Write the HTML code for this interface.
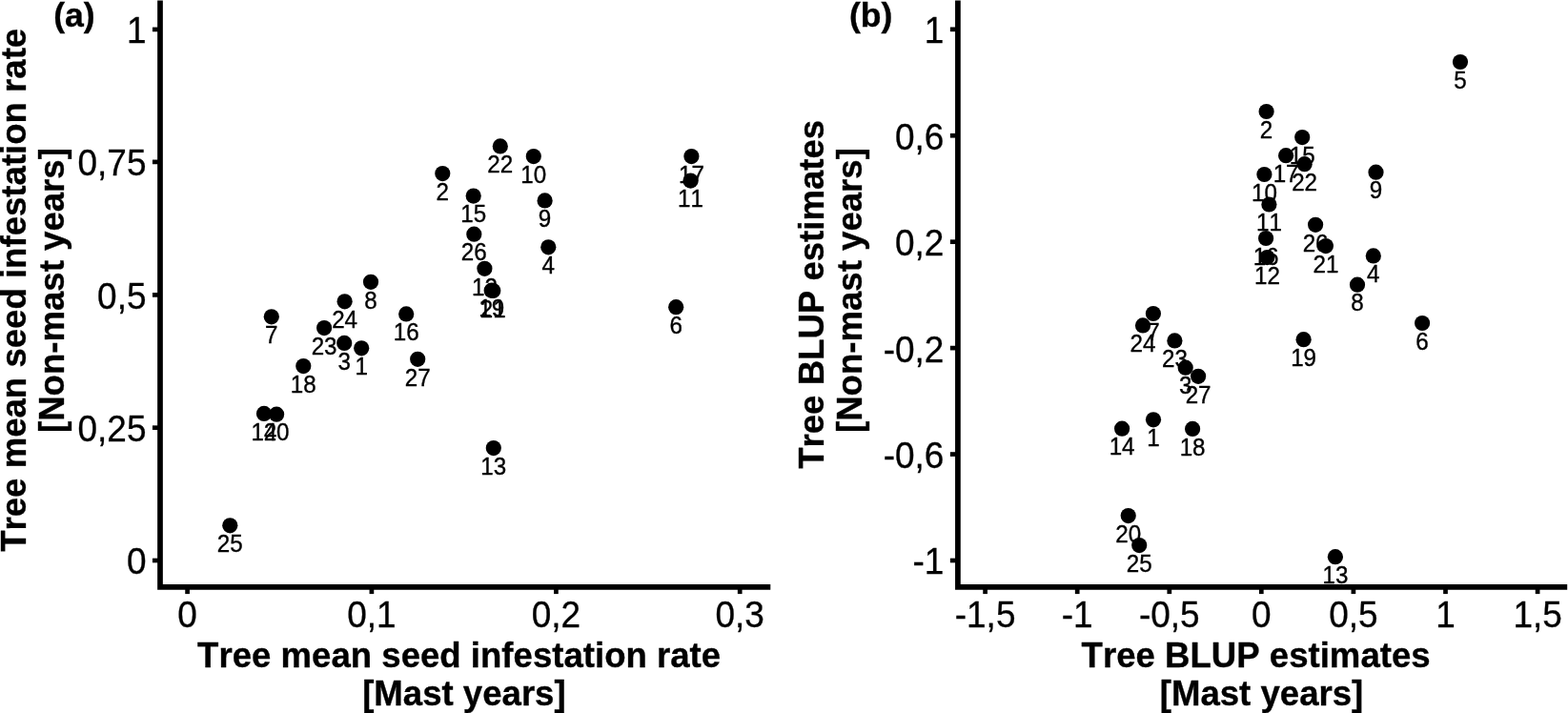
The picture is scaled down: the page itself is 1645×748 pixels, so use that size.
<!DOCTYPE html>
<html lang="en">
<head>
<meta charset="utf-8">
<title>Tree mean seed infestation rate and BLUP estimates</title>
<style>
html,body{margin:0;padding:0;background:#fff;}
body{width:1645px;height:748px;overflow:hidden;}
svg{display:block;font-family:"Liberation Sans",sans-serif;}
text{fill:#000;stroke:#000;font-kerning:none;}
.t{font-weight:bold;font-size:36.6px;stroke-width:0.35px;text-anchor:middle;}
.a{font-size:37.0px;stroke-width:0.3px;}
.l{font-size:24.2px;stroke-width:0.35px;text-anchor:middle;}
.ax{stroke:#000;stroke-width:5.7;fill:none;stroke-linejoin:miter;stroke-linecap:butt;}
.tk{stroke:#000;stroke-width:4.7;fill:none;}
circle{fill:#000;}
</style>
</head>
<body>
<svg width="1645" height="748" viewBox="0 0 1645 748">
<rect x="0" y="0" width="1645" height="748" fill="#fff"/>

<g id="panel-a">
<g class="labels">
<text class="l" transform="translate(241.30 579.00) scale(1 1.030)">25</text>
<text class="l" transform="translate(277.00 461.60) scale(1 1.030)">14</text>
<text class="l" transform="translate(290.10 462.40) scale(1 1.030)">20</text>
<text class="l" transform="translate(318.30 411.80) scale(1 1.030)">18</text>
<text class="l" transform="translate(284.80 360.00) scale(1 1.030)">7</text>
<text class="l" transform="translate(340.10 371.80) scale(1 1.030)">23</text>
<text class="l" transform="translate(361.60 344.00) scale(1 1.030)">24</text>
<text class="l" transform="translate(361.20 387.60) scale(1 1.030)">3</text>
<text class="l" transform="translate(379.20 393.00) scale(1 1.030)">1</text>
<text class="l" transform="translate(389.00 323.50) scale(1 1.030)">8</text>
<text class="l" transform="translate(426.20 357.10) scale(1 1.030)">16</text>
<text class="l" transform="translate(438.20 404.50) scale(1 1.030)">27</text>
<text class="l" transform="translate(464.30 209.80) scale(1 1.030)">2</text>
<text class="l" transform="translate(496.70 233.30) scale(1 1.030)">15</text>
<text class="l" transform="translate(497.30 273.40) scale(1 1.030)">26</text>
<text class="l" transform="translate(508.40 309.50) scale(1 1.030)">12</text>
<text class="l" transform="translate(517.30 332.60) scale(1 1.030)">21</text>
<text class="l" transform="translate(515.70 332.40) scale(1 1.030)">19</text>
<text class="l" transform="translate(517.80 497.80) scale(1 1.030)">13</text>
<text class="l" transform="translate(524.80 181.10) scale(1 1.030)">22</text>
<text class="l" transform="translate(559.80 191.80) scale(1 1.030)">10</text>
<text class="l" transform="translate(571.60 238.10) scale(1 1.030)">9</text>
<text class="l" transform="translate(575.30 287.00) scale(1 1.030)">4</text>
<text class="l" transform="translate(709.20 349.90) scale(1 1.030)">6</text>
<text class="l" transform="translate(725.40 191.80) scale(1 1.030)">17</text>
<text class="l" transform="translate(724.50 217.30) scale(1 1.030)">11</text>
</g>
<g class="points">
<circle cx="241.3" cy="551.3" r="8.10"/>
<circle cx="277.0" cy="433.9" r="8.10"/>
<circle cx="290.1" cy="434.7" r="8.10"/>
<circle cx="318.3" cy="384.1" r="8.10"/>
<circle cx="284.8" cy="332.3" r="8.10"/>
<circle cx="340.1" cy="344.1" r="8.10"/>
<circle cx="361.6" cy="316.3" r="8.10"/>
<circle cx="361.2" cy="359.9" r="8.10"/>
<circle cx="379.2" cy="365.3" r="8.10"/>
<circle cx="389.0" cy="295.8" r="8.10"/>
<circle cx="426.2" cy="329.4" r="8.10"/>
<circle cx="438.2" cy="376.8" r="8.10"/>
<circle cx="464.3" cy="182.1" r="8.10"/>
<circle cx="496.7" cy="205.6" r="8.10"/>
<circle cx="497.3" cy="245.7" r="8.10"/>
<circle cx="508.4" cy="281.8" r="8.10"/>
<circle cx="517.3" cy="304.9" r="8.10"/>
<circle cx="515.7" cy="304.7" r="8.10"/>
<circle cx="517.8" cy="470.1" r="8.10"/>
<circle cx="524.8" cy="153.4" r="8.10"/>
<circle cx="559.8" cy="164.1" r="8.10"/>
<circle cx="571.6" cy="210.4" r="8.10"/>
<circle cx="575.3" cy="259.3" r="8.10"/>
<circle cx="709.2" cy="322.2" r="8.10"/>
<circle cx="725.4" cy="164.1" r="8.10"/>
<circle cx="724.5" cy="189.6" r="8.10"/>
</g>
<path class="ax" d="M168.00 0.5 V615.85 H808.30"/>
<path class="tk" d="M159.95 30.90 H168.00"/>
<text class="a" transform="translate(153.50 45.35) scale(1 1.025)" text-anchor="end">1</text>
<path class="tk" d="M159.95 169.90 H168.00"/>
<text class="a" transform="translate(153.50 184.35) scale(1 1.025)" text-anchor="end">0,75</text>
<path class="tk" d="M159.95 309.40 H168.00"/>
<text class="a" transform="translate(153.50 323.85) scale(1 1.025)" text-anchor="end">0,5</text>
<path class="tk" d="M159.95 448.70 H168.00"/>
<text class="a" transform="translate(153.50 463.15) scale(1 1.025)" text-anchor="end">0,25</text>
<path class="tk" d="M159.95 588.00 H168.00"/>
<text class="a" transform="translate(153.50 602.45) scale(1 1.025)" text-anchor="end">0</text>
<path class="tk" d="M196.60 615.85 V623.10"/>
<text class="a" transform="translate(196.60 657.85) scale(1 1.025)" text-anchor="middle">0</text>
<path class="tk" d="M389.90 615.85 V623.10"/>
<text class="a" transform="translate(389.90 657.85) scale(1 1.025)" text-anchor="middle">0,1</text>
<path class="tk" d="M583.40 615.85 V623.10"/>
<text class="a" transform="translate(583.40 657.85) scale(1 1.025)" text-anchor="middle">0,2</text>
<path class="tk" d="M776.20 615.85 V623.10"/>
<text class="a" transform="translate(776.20 657.85) scale(1 1.025)" text-anchor="middle">0,3</text>
</g>
<g id="panel-b">
<g class="labels">
<text class="l" transform="translate(1532.00 92.70) scale(1 1.030)">5</text>
<text class="l" transform="translate(1328.60 144.70) scale(1 1.030)">2</text>
<text class="l" transform="translate(1366.20 171.80) scale(1 1.030)">15</text>
<text class="l" transform="translate(1349.10 190.90) scale(1 1.030)">17</text>
<text class="l" transform="translate(1368.60 199.90) scale(1 1.030)">22</text>
<text class="l" transform="translate(1326.40 210.70) scale(1 1.030)">10</text>
<text class="l" transform="translate(1443.50 208.40) scale(1 1.030)">9</text>
<text class="l" transform="translate(1331.40 242.20) scale(1 1.030)">11</text>
<text class="l" transform="translate(1380.10 263.50) scale(1 1.030)">26</text>
<text class="l" transform="translate(1328.10 277.70) scale(1 1.030)">16</text>
<text class="l" transform="translate(1390.90 285.80) scale(1 1.030)">21</text>
<text class="l" transform="translate(1329.40 297.80) scale(1 1.030)">12</text>
<text class="l" transform="translate(1440.80 296.10) scale(1 1.030)">4</text>
<text class="l" transform="translate(1424.00 326.40) scale(1 1.030)">8</text>
<text class="l" transform="translate(1492.10 366.70) scale(1 1.030)">6</text>
<text class="l" transform="translate(1367.60 383.90) scale(1 1.030)">19</text>
<text class="l" transform="translate(1209.90 356.70) scale(1 1.030)">7</text>
<text class="l" transform="translate(1199.00 369.10) scale(1 1.030)">24</text>
<text class="l" transform="translate(1232.40 385.10) scale(1 1.030)">23</text>
<text class="l" transform="translate(1243.70 413.40) scale(1 1.030)">3</text>
<text class="l" transform="translate(1257.10 422.50) scale(1 1.030)">27</text>
<text class="l" transform="translate(1177.10 477.40) scale(1 1.030)">14</text>
<text class="l" transform="translate(1210.00 468.00) scale(1 1.030)">1</text>
<text class="l" transform="translate(1251.10 477.60) scale(1 1.030)">18</text>
<text class="l" transform="translate(1183.70 568.80) scale(1 1.030)">20</text>
<text class="l" transform="translate(1195.20 599.80) scale(1 1.030)">25</text>
<text class="l" transform="translate(1400.90 611.90) scale(1 1.030)">13</text>
</g>
<g class="points">
<circle cx="1532.0" cy="65.0" r="8.10"/>
<circle cx="1328.6" cy="117.0" r="8.10"/>
<circle cx="1366.2" cy="144.1" r="8.10"/>
<circle cx="1349.1" cy="163.2" r="8.10"/>
<circle cx="1368.6" cy="172.2" r="8.10"/>
<circle cx="1326.4" cy="183.0" r="8.10"/>
<circle cx="1443.5" cy="180.7" r="8.10"/>
<circle cx="1331.4" cy="214.5" r="8.10"/>
<circle cx="1380.1" cy="235.8" r="8.10"/>
<circle cx="1328.1" cy="250.0" r="8.10"/>
<circle cx="1390.9" cy="258.1" r="8.10"/>
<circle cx="1329.4" cy="270.1" r="8.10"/>
<circle cx="1440.8" cy="268.4" r="8.10"/>
<circle cx="1424.0" cy="298.7" r="8.10"/>
<circle cx="1492.1" cy="339.0" r="8.10"/>
<circle cx="1367.6" cy="356.2" r="8.10"/>
<circle cx="1209.9" cy="329.0" r="8.10"/>
<circle cx="1199.0" cy="341.4" r="8.10"/>
<circle cx="1232.4" cy="357.4" r="8.10"/>
<circle cx="1243.7" cy="385.7" r="8.10"/>
<circle cx="1257.1" cy="394.8" r="8.10"/>
<circle cx="1177.1" cy="449.7" r="8.10"/>
<circle cx="1210.0" cy="440.3" r="8.10"/>
<circle cx="1251.1" cy="449.9" r="8.10"/>
<circle cx="1183.7" cy="541.1" r="8.10"/>
<circle cx="1195.2" cy="572.1" r="8.10"/>
<circle cx="1400.9" cy="584.2" r="8.10"/>
</g>
<path class="ax" d="M1004.90 0.5 V615.85 H1644.20"/>
<path class="tk" d="M996.85 30.80 H1004.90"/>
<text class="a" transform="translate(990.40 45.25) scale(1 1.025)" text-anchor="end">1</text>
<path class="tk" d="M996.85 142.25 H1004.90"/>
<text class="a" transform="translate(990.40 156.70) scale(1 1.025)" text-anchor="end">0,6</text>
<path class="tk" d="M996.85 253.70 H1004.90"/>
<text class="a" transform="translate(990.40 268.15) scale(1 1.025)" text-anchor="end">0,2</text>
<path class="tk" d="M996.85 365.10 H1004.90"/>
<text class="a" transform="translate(990.40 379.55) scale(1 1.025)" text-anchor="end">-0,2</text>
<path class="tk" d="M996.85 476.55 H1004.90"/>
<text class="a" transform="translate(990.40 491.00) scale(1 1.025)" text-anchor="end">-0,6</text>
<path class="tk" d="M996.85 588.00 H1004.90"/>
<text class="a" transform="translate(990.40 602.45) scale(1 1.025)" text-anchor="end">-1</text>
<path class="tk" d="M1033.60 615.85 V623.10"/>
<text class="a" transform="translate(1033.60 657.85) scale(1 1.025)" text-anchor="middle">-1,5</text>
<path class="tk" d="M1130.20 615.85 V623.10"/>
<text class="a" transform="translate(1130.20 657.85) scale(1 1.025)" text-anchor="middle">-1</text>
<path class="tk" d="M1226.80 615.85 V623.10"/>
<text class="a" transform="translate(1226.80 657.85) scale(1 1.025)" text-anchor="middle">-0,5</text>
<path class="tk" d="M1323.30 615.85 V623.10"/>
<text class="a" transform="translate(1323.30 657.85) scale(1 1.025)" text-anchor="middle">0</text>
<path class="tk" d="M1419.90 615.85 V623.10"/>
<text class="a" transform="translate(1419.90 657.85) scale(1 1.025)" text-anchor="middle">0,5</text>
<path class="tk" d="M1516.50 615.85 V623.10"/>
<text class="a" transform="translate(1516.50 657.85) scale(1 1.025)" text-anchor="middle">1</text>
<path class="tk" d="M1613.10 615.85 V623.10"/>
<text class="a" transform="translate(1613.10 657.85) scale(1 1.025)" text-anchor="middle">1,5</text>
</g>
<g id="titles">
<text class="t" transform="translate(77.90 28.20)" style="font-size:35.6px">(a)</text>
<text class="t" transform="translate(913.70 28.20)" style="font-size:35.6px">(b)</text>
<text class="t" transform="translate(481.60 700.30) scale(1 1.035)">Tree mean seed infestation rate</text>
<text class="t" transform="translate(486.90 739.90) scale(1 1.035)">[Mast years]</text>
<text class="t" transform="translate(1317.60 700.30) scale(1 1.035)">Tree BLUP estimates</text>
<text class="t" transform="translate(1323.50 739.90) scale(1 1.035)">[Mast years]</text>
<text class="t" transform="translate(27.40 304.30) rotate(-90) scale(1 1.035)">Tree mean seed infestation rate</text>
<text class="t" transform="translate(67.10 304.60) rotate(-90) scale(1 1.035)">[Non-mast years]</text>
<text class="t" transform="translate(864.10 308.80) rotate(-90) scale(1 1.035)">Tree BLUP estimates</text>
<text class="t" transform="translate(903.80 304.60) rotate(-90) scale(1 1.035)">[Non-mast years]</text>
</g>
</svg>
</body>
</html>
